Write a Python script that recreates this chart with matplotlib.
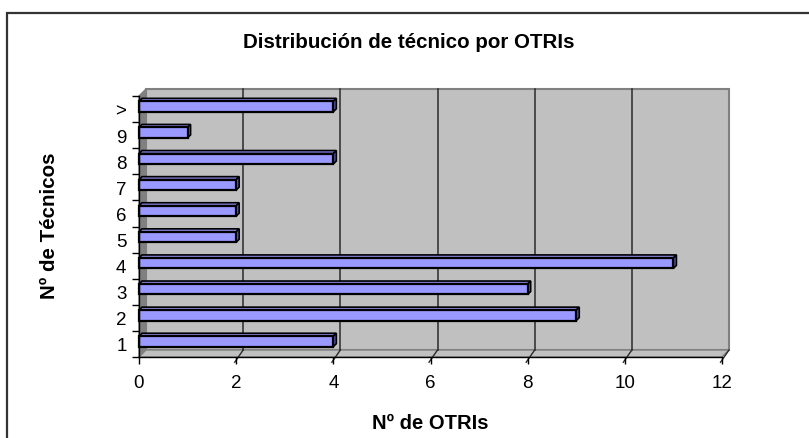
import matplotlib
matplotlib.use("Agg")
import matplotlib.pyplot as plt
from matplotlib.patches import Polygon, Rectangle
from matplotlib.lines import Line2D

plt.rcParams['font.family'] = ['Liberation Sans', 'DejaVu Sans']

# ---- data ----
categories = ['1', '2', '3', '4', '5', '6', '7', '8', '9', '>']
values = [4, 9, 8, 11, 2, 2, 2, 4, 1, 4]
xticks = [0, 2, 4, 6, 8, 10, 12]
title = 'Distribución de técnico por OTRIs'
xlabel = 'Nº de OTRIs'
ylabel = 'Nº de Técnicos'

W, H = 809, 439
fig = plt.figure(figsize=(W / 100, H / 100), dpi=100)
fig.patch.set_facecolor('white')

# axes = front plane of the 3D box
L, R, B, T = 139, 722, 358, 97
ax = fig.add_axes([L / W, (H - B) / H, (R - L) / W, (B - T) / H])
ax.set_xlim(0, 12)
ax.set_ylim(0.5, len(categories) + 0.5)
ax.patch.set_visible(False)

ppx = (R - L) / 12.0            # pixels per x unit
ppy = (B - T) / len(categories)  # pixels per y unit
DX, DY = 7 / ppx, 7 / ppy        # wall depth in data units

y0, y1 = 0.5, len(categories) + 0.5
xmax = 12

wall_c = '#C0C0C0'
edge_c = '#808080'

# back wall
ax.add_patch(Polygon([(DX, y0 + DY), (xmax + DX, y0 + DY), (xmax + DX, y1 + DY), (DX, y1 + DY)],
                     closed=True, facecolor=wall_c, edgecolor=edge_c, lw=1.5, zorder=0, clip_on=False))
# side wall
ax.add_patch(Polygon([(0, y0), (DX, y0 + DY), (DX, y1 + DY), (0, y1)],
                     closed=True, facecolor='#808080', edgecolor=edge_c, lw=1, zorder=0.5, clip_on=False))
# floor
ax.add_patch(Polygon([(0, y0), (xmax, y0), (xmax + DX, y0 + DY), (DX, y0 + DY)],
                     closed=True, facecolor=wall_c, edgecolor=edge_c, lw=1, zorder=0.5, clip_on=False))

# gridlines on back wall and floor diagonals
for xv in xticks[1:-1]:
    ax.add_line(Line2D([xv + DX, xv + DX], [y0 + DY, y1 + DY], color='#2a2a2a', lw=1.1, zorder=0.6, clip_on=False))
for xv in xticks[1:]:
    ax.add_line(Line2D([xv - 0.03, xv + DX], [y0 - 0.2, y0 + DY], color='#2a2a2a', lw=1.0, zorder=0.6, clip_on=False))

# bars
h = 0.40
bdx, bdy = 3 / ppx, 3 / ppy
boff_y = 2.5 / ppy
front_c = '#9999FF'
top_c = '#8585E0'
side_c = '#5C5CB8'
for i, v in enumerate(values):
    yc = i + 1 + boff_y
    yb, yt = yc - h / 2, yc + h / 2
    ax.add_patch(Polygon([(0, yt), (v, yt), (v + bdx, yt + bdy), (bdx, yt + bdy)], closed=True,
                         facecolor=top_c, edgecolor='black', lw=1.2, zorder=2, clip_on=False, joinstyle='miter'))
    ax.add_patch(Polygon([(v, yb), (v + bdx, yb + bdy), (v + bdx, yt + bdy), (v, yt)], closed=True,
                         facecolor=side_c, edgecolor='black', lw=1.2, zorder=2, clip_on=False, joinstyle='miter'))
    ax.add_patch(Rectangle((0, yb), v, h, facecolor=front_c, edgecolor='black', lw=1.6, zorder=3,
                           clip_on=False, joinstyle='miter'))

# spines / axes
for s in ['top', 'right']:
    ax.spines[s].set_visible(False)
for s in ['left', 'bottom']:
    ax.spines[s].set_color('black')
    ax.spines[s].set_linewidth(1.0)
    ax.spines[s].set_zorder(4)

ax.set_xticks(xticks)
ax.set_xticklabels([str(x) for x in xticks], fontsize=13.5)
ax.tick_params(axis='x', direction='out', length=5, width=1, pad=7, colors='black')

ax.set_yticks(range(1, len(categories) + 1))
ax.set_yticklabels(categories, fontsize=13.5)
ax.tick_params(axis='y', which='major', length=0, pad=9)
ax.set_yticks([i + 0.5 for i in range(len(categories) + 1)], minor=True)
ax.tick_params(axis='y', which='minor', direction='out', length=5, width=1)

# texts
fig.text(409 / W, 1 - 42 / H, title, fontsize=14.8, fontweight='bold', ha='center', va='center')
fig.text(430 / W, 1 - 424 / H, xlabel, fontsize=14.5, fontweight='bold', ha='center', va='center')
fig.text(50 / W, 1 - 226 / H, ylabel, fontsize=14.8, fontweight='bold', ha='center', va='center',
         rotation=90)

# outer chart frame (extends past the image edge on right/bottom)
fig.add_artist(Rectangle((7 / W, -0.05), 1.1, 1 - 14 / H + 0.05, transform=fig.transFigure,
                         facecolor='none', edgecolor='#333333', lw=1.6, clip_on=False))

fig.savefig('out.png', dpi=100)
